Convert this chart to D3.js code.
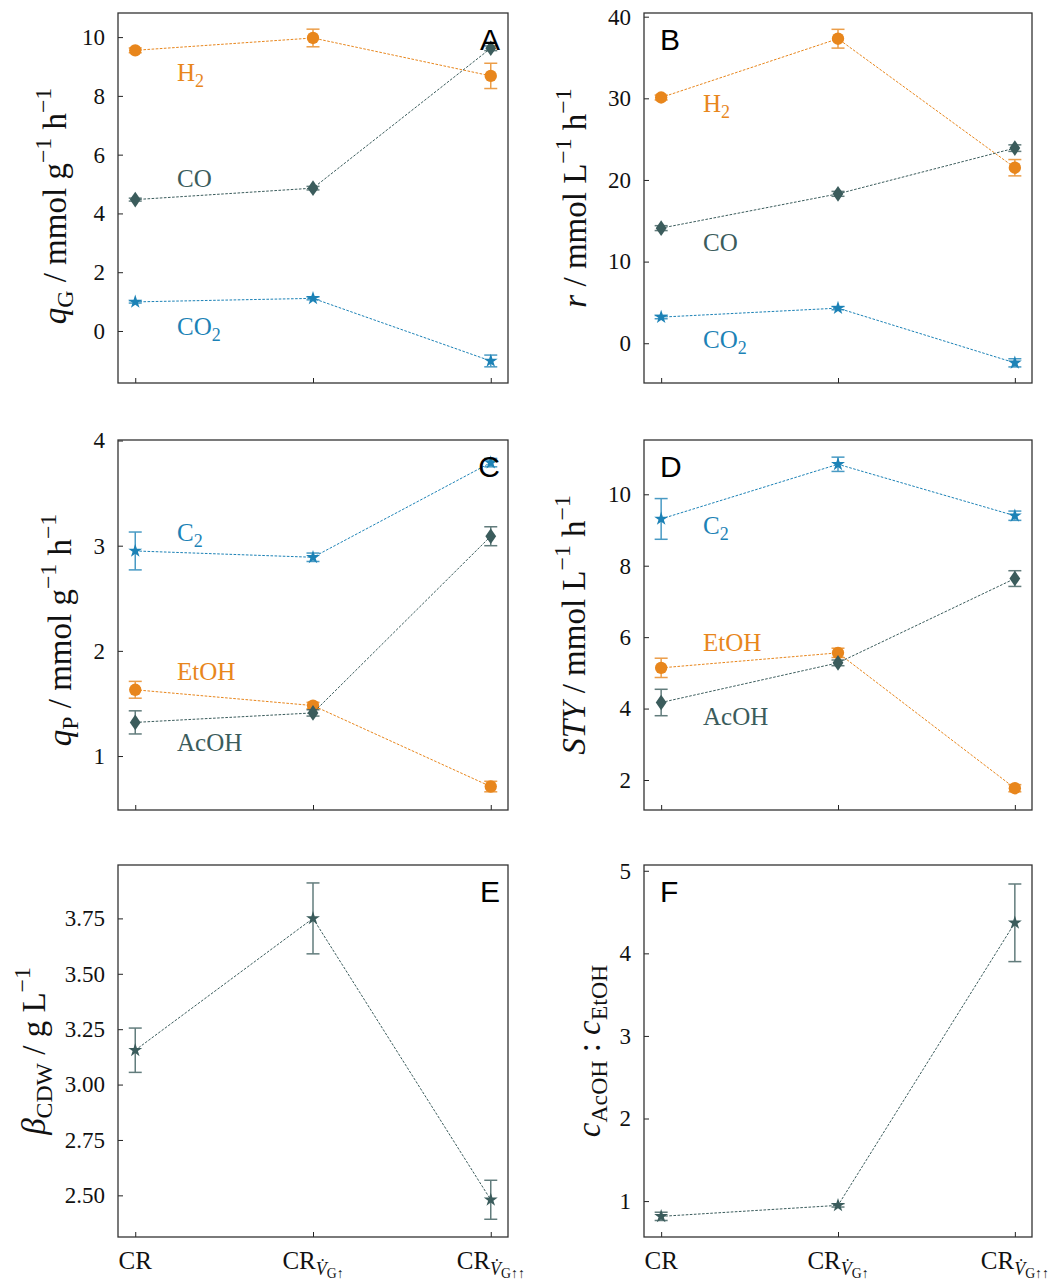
<!DOCTYPE html>
<html>
<head>
<meta charset="utf-8">
<script src="https://cdn.jsdelivr.net/npm/d3@7"></script>
<style>
  html, body { margin: 0; padding: 0; background: #fff; }
  svg { display: block; }
</style>
</head>
<body>
<svg id="chart" width="1055" height="1286"></svg>
<script>
// ---- categories (process conditions) ----
const categories = ["CR", "CR_G1", "CR_G2"];
const categoryArrows = ["", "\u2191", "\u2191\u2191"];

// ---- Panel A: specific gas uptake rates q_G ----
const qG_H2 = [9.55, 9.97, 8.68];
const qG_H2_err = [0.08, 0.30, 0.43];
const qG_CO = [4.47, 4.86, 9.62];
const qG_CO_err = [0.05, 0.06, 0.08];
const qG_CO2 = [0.99, 1.11, -1.02];
const qG_CO2_err = [0.04, 0.05, 0.20];
const qG_ticks = [0, 2, 4, 6, 8, 10];

// ---- Panel B: volumetric gas uptake rates r ----
const r_H2 = [30.1, 37.3, 21.5];
const r_H2_err = [0.3, 1.15, 1.0];
const r_CO = [14.1, 18.3, 23.9];
const r_CO_err = [0.3, 0.3, 0.4];
const r_CO2 = [3.2, 4.3, -2.4];
const r_CO2_err = [0.2, 0.2, 0.5];
const r_ticks = [0, 10, 20, 30, 40];

// ---- Panel C: specific product formation rates q_P ----
const qP_C2 = [2.95, 2.89, 3.79];
const qP_C2_err = [0.18, 0.04, 0.04];
const qP_EtOH = [1.63, 1.48, 0.71];
const qP_EtOH_err = [0.08, 0.03, 0.05];
const qP_AcOH = [1.32, 1.41, 3.09];
const qP_AcOH_err = [0.11, 0.03, 0.09];
const qP_ticks = [1, 2, 3, 4];

// ---- Panel D: space-time yields STY ----
const sty_C2 = [9.31, 10.84, 9.40];
const sty_C2_err = [0.57, 0.20, 0.13];
const sty_EtOH = [5.14, 5.56, 1.77];
const sty_EtOH_err = [0.27, 0.13, 0.10];
const sty_AcOH = [4.17, 5.28, 7.64];
const sty_AcOH_err = [0.37, 0.08, 0.22];
const sty_ticks = [2, 4, 6, 8, 10];

// ---- Panel E: cell dry weight concentration ----
const cdw = [3.155, 3.75, 2.48];
const cdw_err = [0.10, 0.16, 0.088];
const cdw_ticks = [2.50, 2.75, 3.00, 3.25, 3.50, 3.75];

// ---- Panel F: acetate to ethanol ratio ----
const ratio = [0.815, 0.948, 4.37];
const ratio_err = [0.05, 0.02, 0.47];
const ratio_ticks = [1, 2, 3, 4, 5];

// ---- styling ----
const C_ORANGE = "#E8861C";
const C_BLUE = "#1C82B6";
const C_SLATE = "#3B5C5C";
const SERIF = "Liberation Serif, DejaVu Serif, serif";
const SANS = "Liberation Sans, Arial, sans-serif";

const svg = d3.select("#chart");

const cols = [{ x0: 118, x1: 508 }, { x0: 644, x1: 1032 }];
const rows = [{ y0: 13, y1: 383 }, { y0: 440, y1: 810 }, { y0: 865, y1: 1237 }];

// rich text: parts = [{t, lvl (0 base, 1 sub, 2 subsub, -1 sup), it}]
function rich(textSel, parts, size) {
  const shift = { 0: 0, 1: 0.22, 2: 0.36, "-1": -0.45 };
  const scale = { 0: 1, 1: 0.72, 2: 0.55, "-1": 0.72 };
  let cur = 0;
  parts.forEach(p => {
    const lvl = p.lvl || 0;
    const target = shift[lvl] * size;
    textSel.append("tspan")
      .attr("dy", (target - cur).toFixed(2))
      .attr("font-size", (scale[lvl] * size).toFixed(2))
      .attr("font-style", p.it ? "italic" : "normal")
      .text(p.t);
    cur = target;
  });
  return textSel;
}

function markerPath(kind) {
  if (kind === "circle") return d3.symbol(d3.symbolCircle, 120)();
  if (kind === "star") return d3.symbol(d3.symbolStar, 60)();
  // thin diamond
  return "M0,-7.8L5.4,0L0,7.8L-5.4,0Z";
}

function panel(opt) {
  const col = cols[opt.col], row = rows[opt.row];
  const x = d3.scalePoint().domain(categories).range([col.x0, col.x1]).padding(0.097);
  const y = d3.scaleLinear().domain(opt.domain).range([row.y1, row.y0]);
  const g = svg.append("g");
  const fmt = opt.fmt || d3.format("d");

  // y axis: inward ticks, labels outside
  const yAxis = d3.axisLeft(y).tickValues(opt.ticks).tickSize(-5).tickPadding(13)
    .tickFormat(d => fmt(d).replace("-", "\u2212"));
  const ya = g.append("g").attr("transform", `translate(${col.x0},0)`).call(yAxis)
    .attr("font-family", SERIF).attr("font-size", 23);
  ya.select(".domain").remove();
  ya.selectAll(".tick line").attr("stroke", "#222").attr("stroke-width", 1);
  ya.selectAll(".tick text").attr("fill", "#111").style("font-family", SERIF).style("font-size", "23px");

  // x axis: inward ticks
  const xAxis = d3.axisBottom(x).tickSize(-5).tickFormat("");
  const xa = g.append("g").attr("transform", `translate(0,${row.y1})`).call(xAxis);
  xa.select(".domain").remove();
  xa.selectAll(".tick line").attr("stroke", "#222").attr("stroke-width", 1);
  xa.selectAll(".tick text").remove();

  if (opt.xlabels) {
    categories.forEach((c, i) => {
      const t = g.append("text").attr("x", x(c)).attr("y", row.y1 + 32)
        .attr("text-anchor", "middle").style("font-family", SERIF).attr("fill", "#111");
      const parts = [{ t: "CR" }];
      if (i > 0) {
        parts.push({ t: "V\u0307", lvl: 1, it: true });
        parts.push({ t: "G" + categoryArrows[i], lvl: 2 });
      }
      rich(t, parts, 25);
    });
  }

  // series
  opt.series.forEach(s => {
    const pts = s.values.map((v, i) => ({ c: categories[i], v, e: s.err[i] }));
    const line = d3.line().x(d => x(d.c)).y(d => y(d.v));
    g.append("path").datum(pts).attr("d", line).attr("fill", "none")
      .attr("stroke", s.color).attr("stroke-width", 1).attr("stroke-dasharray", "2.6,1.5");
    const eb = g.append("g").attr("stroke", s.color).attr("stroke-width", 1.5).attr("opacity", 0.8);
    pts.forEach(d => {
      const cx = x(d.c), yt = y(d.v + d.e), yb = y(d.v - d.e);
      eb.append("line").attr("x1", cx).attr("x2", cx).attr("y1", yt).attr("y2", yb);
      eb.append("line").attr("x1", cx - 6.5).attr("x2", cx + 6.5).attr("y1", yt).attr("y2", yt);
      eb.append("line").attr("x1", cx - 6.5).attr("x2", cx + 6.5).attr("y1", yb).attr("y2", yb);
    });
    g.selectAll(null).data(pts).enter().append("path")
      .attr("d", markerPath(s.marker))
      .attr("transform", d => `translate(${x(d.c)},${y(d.v)})`)
      .attr("fill", s.color);
    if (s.label) {
      const t = g.append("text").attr("x", s.label.x).attr("y", s.label.y)
        .style("font-family", SERIF).attr("fill", s.color);
      rich(t, s.label.parts, 25);
    }
  });

  // frame
  g.append("rect").attr("x", col.x0).attr("y", row.y0)
    .attr("width", col.x1 - col.x0).attr("height", row.y1 - row.y0)
    .attr("fill", "none").attr("stroke", "#333").attr("stroke-width", 1.3);

  // panel letter
  const right = opt.col === 0;
  g.append("text").attr("x", right ? col.x1 - 8 : col.x0 + 16).attr("y", row.y0 + 37)
    .attr("text-anchor", right ? "end" : "start")
    .style("font-family", SANS).attr("font-size", 30).attr("fill", "#000").text(opt.letter);

  // y label
  const yl = g.append("text")
    .attr("transform", `translate(${opt.ylabelX},${(row.y0 + row.y1) / 2 + (opt.ylabelDy || 0)}) rotate(-90)`)
    .attr("text-anchor", "middle").style("font-family", SERIF).attr("fill", "#111");
  rich(yl, opt.ylabel, 33);
}

const lbl = (t, sub) => sub ? [{ t }, { t: sub, lvl: 1 }] : [{ t }];
const per = unit => [{ t: " / mmol " + unit }, { t: "\u22121", lvl: -1 }, { t: " h" }, { t: "\u22121", lvl: -1 }];

panel({
  col: 0, row: 0, letter: "A", domain: [-1.77, 10.82], ticks: qG_ticks, ylabelX: 66, ylabelDy: 8,
  ylabel: [{ t: "q", it: true }, { t: "G", lvl: 1 }].concat(per("g")),
  series: [
    { values: qG_CO2, err: qG_CO2_err, color: C_BLUE, marker: "star", label: { x: 177, y: 335, parts: lbl("CO", "2") } },
    { values: qG_H2, err: qG_H2_err, color: C_ORANGE, marker: "circle", label: { x: 177, y: 81, parts: lbl("H", "2") } },
    { values: qG_CO, err: qG_CO_err, color: C_SLATE, marker: "diamond", label: { x: 177, y: 187, parts: lbl("CO") } }
  ]
});

panel({
  col: 1, row: 0, letter: "B", domain: [-4.87, 40.45], ticks: r_ticks, ylabelX: 586,
  ylabel: [{ t: "r", it: true }].concat(per("L")),
  series: [
    { values: r_CO2, err: r_CO2_err, color: C_BLUE, marker: "star", label: { x: 703, y: 348, parts: lbl("CO", "2") } },
    { values: r_H2, err: r_H2_err, color: C_ORANGE, marker: "circle", label: { x: 703, y: 112, parts: lbl("H", "2") } },
    { values: r_CO, err: r_CO_err, color: C_SLATE, marker: "diamond", label: { x: 703, y: 251, parts: lbl("CO") } }
  ]
});

panel({
  col: 0, row: 1, letter: "C", domain: [0.487, 4.005], ticks: qP_ticks, ylabelX: 71, ylabelDy: 5,
  ylabel: [{ t: "q", it: true }, { t: "P", lvl: 1 }].concat(per("g")),
  series: [
    { values: qP_C2, err: qP_C2_err, color: C_BLUE, marker: "star", label: { x: 177, y: 541, parts: lbl("C", "2") } },
    { values: qP_EtOH, err: qP_EtOH_err, color: C_ORANGE, marker: "circle", label: { x: 177, y: 680, parts: lbl("EtOH") } },
    { values: qP_AcOH, err: qP_AcOH_err, color: C_SLATE, marker: "diamond", label: { x: 177, y: 751, parts: lbl("AcOH") } }
  ]
});

panel({
  col: 1, row: 1, letter: "D", domain: [1.16, 11.52], ticks: sty_ticks, ylabelX: 585,
  ylabel: [{ t: "STY", it: true }].concat(per("L")),
  series: [
    { values: sty_C2, err: sty_C2_err, color: C_BLUE, marker: "star", label: { x: 703, y: 534, parts: lbl("C", "2") } },
    { values: sty_EtOH, err: sty_EtOH_err, color: C_ORANGE, marker: "circle", label: { x: 703, y: 651, parts: lbl("EtOH") } },
    { values: sty_AcOH, err: sty_AcOH_err, color: C_SLATE, marker: "diamond", label: { x: 703, y: 725, parts: lbl("AcOH") } }
  ]
});

panel({
  col: 0, row: 2, letter: "E", domain: [2.312, 3.991], ticks: cdw_ticks, ylabelX: 45,
  fmt: d3.format(".2f"), xlabels: true,
  ylabel: [{ t: "\u03B2", it: true }, { t: "CDW", lvl: 1 }, { t: " / g L" }, { t: "\u22121", lvl: -1 }],
  series: [{ values: cdw, err: cdw_err, color: C_SLATE, marker: "star" }]
});

panel({
  col: 1, row: 2, letter: "F", domain: [0.565, 5.07], ticks: ratio_ticks, ylabelX: 600,
  xlabels: true,
  ylabel: [{ t: "c", it: true }, { t: "AcOH", lvl: 1 }, { t: " : ", lvl: 0 }, { t: "c", it: true }, { t: "EtOH", lvl: 1 }],
  series: [{ values: ratio, err: ratio_err, color: C_SLATE, marker: "star" }]
});
</script>
</body>
</html>
